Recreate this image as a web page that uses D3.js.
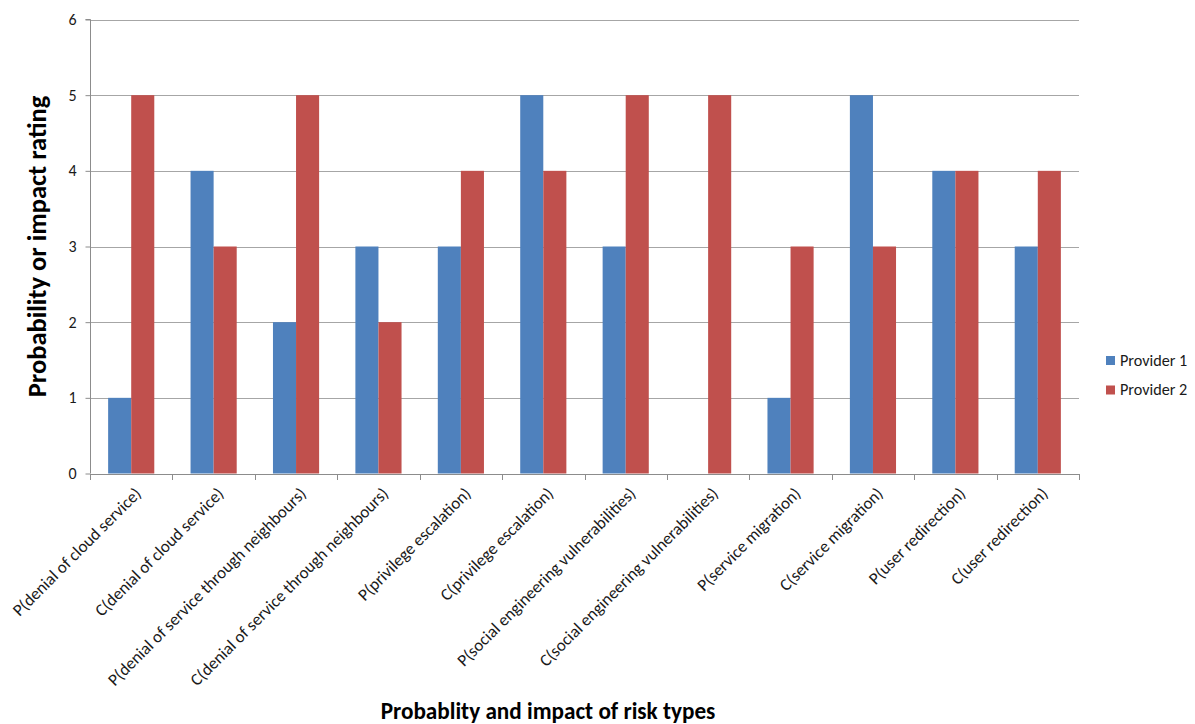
<!DOCTYPE html>
<html>
<head>
<meta charset="utf-8">
<script src="https://cdn.jsdelivr.net/npm/d3@7"></script>
<style>
  body { margin: 0; background: #fff; }
  svg { display: block; font-family: Carlito, Calibri, Lato, sans-serif; }
</style>
</head>
<body>
<svg id="chart" width="1195" height="724"></svg>
<script>
// Risk categories (P = probability, C = consequence)
const categories = [
  "P(denial of cloud service)",
  "C(denial of cloud service)",
  "P(denial of service through neighbours)",
  "C(denial of service through neighbours)",
  "P(privilege escalation)",
  "C(privilege escalation)",
  "P(social engineering vulnerabilities)",
  "C(social engineering vulnerabilities)",
  "P(service migration)",
  "C(service migration)",
  "P(user redirection)",
  "C(user redirection)"
];
const seriesNames = ["Provider 1", "Provider 2"];
const provider1 = [1, 4, 2, 3, 3, 5, 3, 0, 1, 5, 4, 3];
const provider2 = [5, 3, 5, 2, 4, 4, 5, 5, 3, 3, 4, 4];
const yTicks = [0, 1, 2, 3, 4, 5, 6];
const colors = ["#4F81BD", "#C0504D"];

const svg = d3.select("#chart");
const plot = { left: 90, right: 1079, top: 19.5, bottom: 473.5 };

const x = d3.scaleBand().domain(categories).range([plot.left, plot.right])
  .paddingInner(0.44).paddingOuter(0.22);
const xInner = d3.scaleBand().domain(seriesNames).range([0, x.bandwidth()]);
const y = d3.scaleLinear().domain([0, 6]).range([plot.bottom, plot.top]);

// horizontal gridlines
svg.append("g").selectAll("line").data(yTicks.filter(d => d > 0)).join("line")
  .attr("x1", plot.left).attr("x2", plot.right)
  .attr("y1", d => Math.round(y(d)) + 0.5).attr("y2", d => Math.round(y(d)) + 0.5)
  .attr("stroke", "#a6a6a6").attr("stroke-width", 1);

// bars
const rows = categories.map((c, i) => ({ c, vals: [provider1[i], provider2[i]] }));
const groups = svg.append("g").selectAll("g").data(rows).join("g")
  .attr("transform", d => `translate(${x(d.c)},0)`);
groups.selectAll("rect")
  .data(d => d.vals.map((v, j) => ({ v, s: seriesNames[j], j })))
  .join("rect")
  .attr("x", d => xInner(d.s))
  .attr("width", xInner.bandwidth())
  .attr("y", d => y(d.v))
  .attr("height", d => y(0) - y(d.v))
  .attr("fill", d => colors[d.j]);

// y axis
const yAxis = d3.axisLeft(y).tickValues(yTicks).tickSize(5).tickPadding(9).tickFormat(d3.format("d"));
const gy = svg.append("g").attr("transform", `translate(${plot.left + 0.5},0)`).call(yAxis);
gy.select(".domain").attr("stroke", "#8c8c8c").attr("d", `M-5,${y(6)}H0V${y(0)}`);
gy.selectAll(".tick line").attr("stroke", "#8c8c8c");
gy.selectAll(".tick text").attr("font-size", 16).attr("fill", "#1a1a1a")
  .style("font-family", "Carlito, Calibri, Lato, sans-serif");

// x axis: ticks at category boundaries
const bounds = d3.range(categories.length + 1).map(i => plot.left + i * (plot.right - plot.left) / categories.length);
const gx = svg.append("g");
gx.append("line").attr("x1", plot.left).attr("x2", plot.right)
  .attr("y1", Math.round(y(0)) + 0.5).attr("y2", Math.round(y(0)) + 0.5)
  .attr("stroke", "#8c8c8c");
gx.selectAll("line.tk").data(bounds).join("line").attr("class", "tk")
  .attr("x1", d => Math.round(d) + 0.5).attr("x2", d => Math.round(d) + 0.5)
  .attr("y1", Math.round(y(0))).attr("y2", Math.round(y(0)) + 6)
  .attr("stroke", "#8c8c8c");
gx.selectAll("text").data(categories).join("text")
  .attr("transform", d => `translate(${x(d) + x.bandwidth() / 2 + 11},${y(0) + 21}) rotate(-45)`)
  .attr("text-anchor", "end")
  .attr("font-size", 17).attr("fill", "#1a1a1a")
  .text(d => d);

// axis titles
svg.append("text")
  .attr("transform", `translate(46,${(plot.top + plot.bottom) / 2}) rotate(-90)`)
  .attr("text-anchor", "middle").attr("font-size", 26.5).attr("font-weight", "bold")
  .attr("fill", "#000").text("Probability or impact rating");
svg.append("text")
  .attr("x", 548).attr("y", 719)
  .attr("text-anchor", "middle").attr("font-size", 23.2).attr("font-weight", "bold")
  .attr("fill", "#000").text("Probablity and impact of risk types");

// legend
const legend = svg.append("g").attr("transform", "translate(1106,356)");
const li = legend.selectAll("g").data(seriesNames).join("g")
  .attr("transform", (d, i) => `translate(0,${i * 29.5})`);
li.append("rect").attr("width", 9).attr("height", 9).attr("fill", (d, i) => colors[i]);
li.append("text").attr("x", 14).attr("y", 9.5).attr("font-size", 16.2).attr("fill", "#1a1a1a").text(d => d);
</script>
</body>
</html>
